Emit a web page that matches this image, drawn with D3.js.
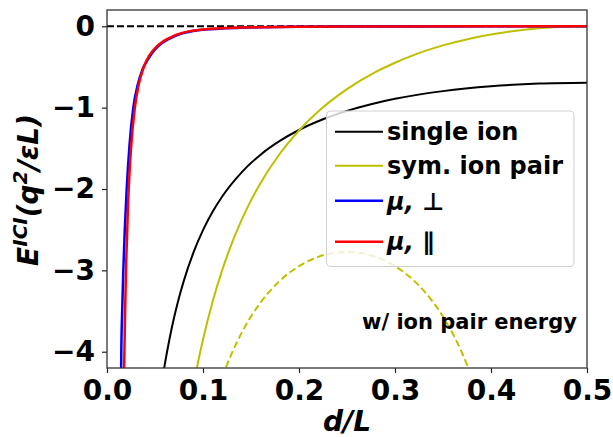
<!DOCTYPE html>
<html><head><meta charset="utf-8">
<script src="https://cdn.jsdelivr.net/npm/d3@7"></script>
<style>
body{margin:0;background:#fff}
svg{display:block}
text{font-family:"DejaVu Sans",sans-serif;font-weight:bold;fill:#000}
</style>
</head><body>
<svg id="chart" width="613" height="437"></svg>
<script>
// ---- data ----
const xTicks = [0.0, 0.1, 0.2, 0.3, 0.4, 0.5];
const yTicks = [0, -1, -2, -3, -4];

const singleIonD = [0.058,0.06,0.065,0.07,0.075,0.08,0.09,0.1,0.11,0.12,0.14,0.16,0.18,0.2,0.225,0.25,0.275,0.3,0.35,0.4,0.45,0.5];
const singleIonE = [-4.312,-4.169,-3.849,-3.574,-3.337,-3.129,-2.783,-2.506,-2.280,-2.092,-1.798,-1.578,-1.409,-1.275,-1.143,-1.040,-0.958,-0.892,-0.797,-0.737,-0.704,-0.693];

const symPairD = [0.09,0.093,0.1,0.11,0.12,0.13,0.14,0.15,0.16,0.18,0.2,0.22,0.25,0.28,0.3,0.32,0.35,0.38,0.4,0.42,0.45,0.48,0.5];
const symPairE = [-4.416,-4.234,-3.850,-3.385,-2.997,-2.667,-2.385,-2.140,-1.925,-1.567,-1.281,-1.048,-0.773,-0.561,-0.448,-0.351,-0.235,-0.146,-0.100,-0.063,-0.024,-0.004,0];

const pairEnergyD = [0.12,0.125,0.13,0.14,0.15,0.16,0.18,0.2,0.22,0.235,0.25,0.265,0.28,0.3,0.32,0.34,0.35,0.36,0.37,0.375,0.38];
const pairEnergyE = [-4.312,-4.159,-4.019,-3.774,-3.568,-3.395,-3.129,-2.948,-2.834,-2.788,-2.773,-2.788,-2.834,-2.948,-3.129,-3.395,-3.568,-3.774,-4.019,-4.159,-4.312];

const muPerpD = [0.0142,0.0149,0.0158,0.017,0.0185,0.0205,0.0235,0.0274,0.032,0.037,0.043,0.05,0.057,0.064,0.07,0.076,0.085,0.095,0.107,0.12,0.14,0.16,0.2,0.25,0.3,0.4,0.5];
const muPerpE = [-5.0,-4.0,-3.5,-3.0,-2.5,-2.0,-1.45,-1.0,-0.72,-0.53,-0.40,-0.285,-0.21,-0.158,-0.125,-0.097,-0.07,-0.05,-0.036,-0.026,-0.017,-0.012,-0.0065,-0.0035,-0.002,-0.0009,-0.0006];

const muParD = [0.0172,0.018,0.019,0.02,0.022,0.025,0.029,0.033,0.038,0.044,0.052,0.058,0.064,0.07,0.076,0.085,0.095,0.107,0.12,0.14,0.16,0.2,0.25,0.3,0.4,0.5];
const muParE = [-5.0,-4.1,-3.42,-2.9,-2.17,-1.5,-1.0,-0.72,-0.51,-0.36,-0.245,-0.19,-0.15,-0.115,-0.09,-0.063,-0.045,-0.033,-0.024,-0.016,-0.011,-0.006,-0.003,-0.0018,-0.0008,-0.0005];

const legendLabels = ["single ion", "sym. ion pair", "\u03bc, \u22a5", "\u03bc, \u2225"];
const annotation = "w/ ion pair energy";

// ---- layout ----
const svg = d3.select("#chart");
const L = 107, R = 587, T = 10, B = 368;
const x = d3.scaleLinear().domain([0, 0.5]).range([L, R]);
const y = d3.scaleLinear().domain([-4.2, 0.2]).range([B, T]);

svg.append("defs").append("clipPath").attr("id","clip")
  .append("rect").attr("x",L).attr("y",T).attr("width",R-L).attr("height",B-T);

const plot = svg.append("g").attr("clip-path","url(#clip)");
const line = d3.line().x(d=>x(d[0])).y(d=>y(d[1])).curve(d3.curveMonotoneX);
const zip = (a,b)=>a.map((v,i)=>[v,b[i]]);

// zero reference
plot.append("path").datum([[0,0],[0.5,0]]).attr("d", d3.line().x(d=>x(d[0])).y(d=>y(d[1])))
  .attr("fill","none").attr("stroke","#000").attr("stroke-width",1.9).attr("stroke-dasharray","7,3");

const series = [
  {d:singleIonD, e:singleIonE, color:"#000000", w:2.0, dash:null},
  {d:symPairD, e:symPairE, color:"#bfbf00", w:2.0, dash:null},
  {d:pairEnergyD, e:pairEnergyE, color:"#bfbf00", w:2.0, dash:"7,3.5"},
  {d:muPerpD, e:muPerpE, color:"#0000ff", w:2.5, dash:null},
  {d:muParD, e:muParE, color:"#ff0000", w:2.5, dash:null}
];
series.forEach(s=>{
  const p = plot.append("path").datum(zip(s.d,s.e)).attr("d",line)
    .attr("fill","none").attr("stroke",s.color).attr("stroke-width",s.w);
  if (s.dash) p.attr("stroke-dasharray", s.dash);
});

// annotation
svg.append("text").attr("x",362).attr("y",329).attr("font-size","21px").text(annotation);

// axes
const xAxis = svg.append("g").attr("transform",`translate(0,${B})`)
  .call(d3.axisBottom(x).tickValues(xTicks).tickFormat(d3.format(".1f")).tickSize(5).tickPadding(7));
const yAxis = svg.append("g").attr("transform",`translate(${L},0)`)
  .call(d3.axisLeft(y).tickValues(yTicks).tickFormat(d3.format("d")).tickSize(5).tickPadding(7));
[xAxis,yAxis].forEach(a=>{
  a.select(".domain").remove();
  a.selectAll(".tick line").attr("stroke","#222").attr("stroke-width",1.2);
  a.selectAll(".tick text").attr("font-size","28px").attr("font-family","DejaVu Sans").attr("font-weight","bold").attr("fill","#000");
});

// frame
svg.append("rect").attr("x",L).attr("y",T).attr("width",R-L).attr("height",B-T)
  .attr("fill","none").attr("stroke","#333").attr("stroke-width",1.3);

// axis labels
svg.append("text").attr("x",(L+R)/2).attr("y",431).attr("text-anchor","middle")
  .attr("font-size","28px").attr("font-style","italic").text("d/L");

const yl = svg.append("text").attr("transform","translate(38,190) rotate(-90)")
  .attr("text-anchor","middle").attr("font-size","28px").attr("font-style","italic");
yl.append("tspan").text("E");
yl.append("tspan").attr("font-size","20px").attr("dy",-11).text("ICI");
yl.append("tspan").attr("dy",11).text("(q");
yl.append("tspan").attr("font-size","20px").attr("dy",-11).text("2");
yl.append("tspan").attr("dy",11).text("/\u03b5L)");

// legend
const lg = svg.append("g");
lg.append("rect").attr("x",326.5).attr("y",111).attr("width",247.5).attr("height",155.5)
  .attr("rx",4).attr("fill","#fff").attr("fill-opacity",0.8).attr("stroke","#d0d0d0").attr("stroke-width",1);
const legendColors = ["#000000","#bfbf00","#0000ff","#ff0000"];
const lineY = [131.7,165.7,200.7,241.7];
const textY = [139.5,174,210,250];
legendLabels.forEach((lab,i)=>{
  lg.append("line").attr("x1",335).attr("x2",383).attr("y1",lineY[i]).attr("y2",lineY[i])
    .attr("stroke",legendColors[i]).attr("stroke-width",i>1?2.5:2.0);
  const t = lg.append("text").attr("x",387).attr("y",textY[i]).attr("font-size","24px");
  if (i<2) t.text(lab);
  else {
    t.append("tspan").attr("font-style","italic").text(lab.slice(0,2));
    t.append("tspan").text(lab.slice(2));
  }
});
</script>
</body></html>
